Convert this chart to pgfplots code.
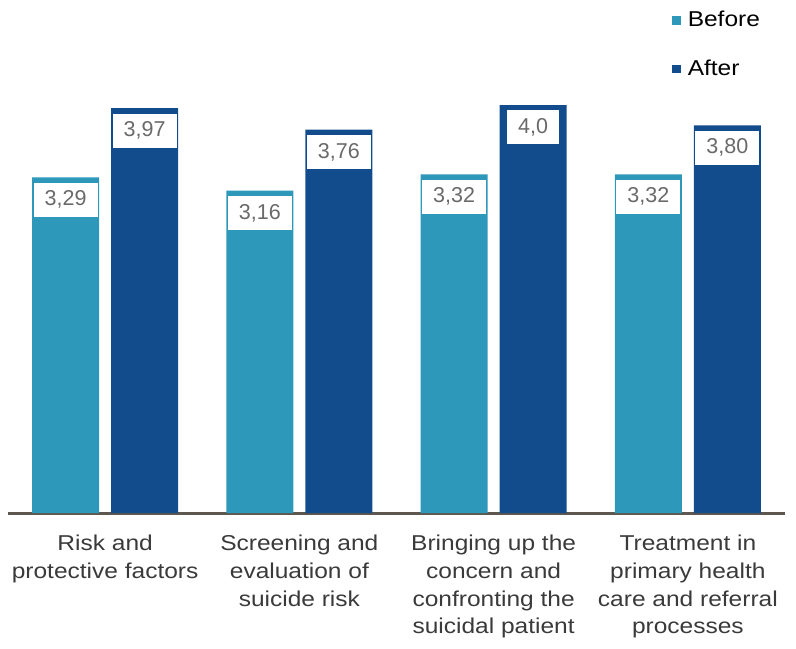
\documentclass[border=0pt]{standalone}
\usepackage{fontspec}
\setmainfont[FakeStretch=1.14]{Liberation Sans}
\newfontfamily\valfont{Liberation Sans}
\usepackage{pgfplots}
\pgfplotsset{compat=1.18}
\definecolor{before}{HTML}{2E98BA}
\definecolor{after}{HTML}{134C8C}
\definecolor{baseln}{HTML}{5E5750}
\definecolor{lbl}{HTML}{3A3A3A}
\definecolor{valgray}{HTML}{6A6A6A}
\begin{document}
\begin{tikzpicture}
\path[use as bounding box] (-4pt,-67.5pt) rectangle (394pt,256.5pt);
\begin{axis}[
  at={(0,0)}, anchor=south west,
  scale only axis, width=388.5pt, height=256.5pt,
  xmin=-0.5, xmax=3.5, ymin=0, ymax=5.03,
  axis x line*=bottom, axis y line=none,
  x axis line style={draw=baseln, line width=1.5pt, -},
  xtick={0,1,2,3}, major tick length=0pt,
  xticklabels={Risk and\\protective factors, Screening and\\evaluation of\\suicide risk, Bringing up the\\concern and\\confronting the\\suicidal patient, Treatment in\\primary health\\care and referral\\processes},
  xticklabel style={align=center, anchor=north, text=lbl, font=\fontsize{10.75}{13.85}\selectfont, yshift=-7.5pt},
  ytick=\empty,
  bar width=33.5pt,
  nodes near coords,
  point meta=explicit symbolic,
  nodes near coords style={anchor=north, yshift=-2.5pt, fill=white, text=valgray, font=\valfont\fontsize{10.75}{12}\selectfont, inner xsep=5.5pt, minimum height=17pt},
  legend style={draw=none, fill=none, at={(0.854,0.987)}, anchor=north west, font=\fontsize{10.75}{12}\selectfont, row sep=11pt, inner sep=0pt},
  legend cell align=left,
  legend image code/.code={\fill[#1] (0pt,-2.2pt) rectangle (4.4pt,2.2pt);},
  clip=false,
]
\addplot[ybar, fill=before, draw=none, bar shift=-19.75pt, every node near coord/.append style={xshift=-19.75pt}] coordinates {(0,3.29) [3,29] (1,3.16) [3,16] (2,3.32) [3,32] (3,3.32) [3,32]};
\addplot[ybar, fill=after, draw=none, bar shift=19.75pt, every node near coord/.append style={xshift=19.75pt}] coordinates {(0,3.97) [3,97] (1,3.76) [3,76] (2,4.0) [4,0] (3,3.80) [3,80]};
\legend{\hspace{1.5pt}Before, \hspace{1.5pt}After}
\end{axis}
\end{tikzpicture}
\end{document}
